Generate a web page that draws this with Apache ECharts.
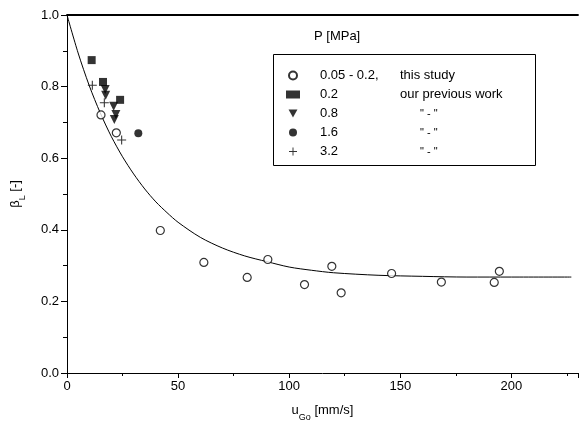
<!DOCTYPE html>
<html>
<head>
<meta charset="utf-8">
<script src="https://cdn.jsdelivr.net/npm/echarts@6/dist/echarts.min.js"></script>
<style>html,body{margin:0;padding:0;background:#fff}#c{width:580px;height:439px}</style>
</head>
<body>
<div id="c"></div>
<script>
// Data
var xTicks = [0, 50, 100, 150, 200];
var yTicks = [0.0, 0.2, 0.4, 0.6, 0.8, 1.0];

var legendNames = ['0.05 - 0.2,', '0.2', '0.8', '1.6', '3.2'];
var legendDesc = ['this study', 'our previous work', '" - "', '" - "', '" - "'];

// P = 0.05 - 0.2 MPa, this study (open circles)
var thisStudy = [
  [15.3, 0.721], [22.2, 0.671], [42.0, 0.398], [61.6, 0.309], [81.1, 0.267],
  [90.4, 0.317], [106.9, 0.247], [119.2, 0.298], [123.4, 0.224], [146.1, 0.278],
  [168.5, 0.254], [192.3, 0.253], [194.6, 0.284]
];
// P = 0.2 MPa, previous work (squares)
var prev02 = [[11.1, 0.874], [16.2, 0.813], [23.9, 0.763]];
// P = 0.8 MPa (down triangles)
var prev08 = [[17.2, 0.792], [17.4, 0.776], [21.0, 0.745], [22.0, 0.722], [21.3, 0.708]];
// P = 1.6 MPa (filled circles)
var prev16 = [[32.1, 0.670]];
// P = 3.2 MPa (crosses)
var prev32 = [[11.4, 0.804], [16.8, 0.755], [24.6, 0.651]];

// fitted curve, points
var curveX = [0, 5, 10, 15, 20, 25, 30, 35, 40, 45, 50, 60, 70, 80, 90, 100, 110, 120, 140, 160, 180, 200, 227];
var curveY = [1.0, 0.894, 0.803, 0.726, 0.660, 0.604, 0.556, 0.514, 0.478, 0.448, 0.421, 0.379, 0.349, 0.327, 0.311, 0.296, 0.287, 0.280, 0.273, 0.270, 0.268, 0.268, 0.268];

var curve = curveX.map(function (x, i) { return [x, curveY[i]]; });

var FONT = 'Liberation Sans, Arial, sans-serif';
var chart = echarts.init(document.getElementById('c'), null, {renderer: 'canvas'});

var triPath = 'path://M0,0L10,0L5,9Z';
var plusPath = 'path://M4.4,0H5.6V4.4H10V5.6H5.6V10H4.4V5.6H0V4.4H4.4Z';

var descMap = {};
legendNames.forEach(function (n, i) { descMap[n] = legendDesc[i]; });

var option = {
  animation: false,
  backgroundColor: '#fff',
  grid: {left: 67, right: 2, top: 15, bottom: 66, containLabel: false, outerBoundsMode: 'none'},
  title: {
    text: 'P [MPa]', left: 309, top: 25,
    textStyle: {fontFamily: FONT, fontSize: 13, fontWeight: 'normal', color: '#000'}
  },
  legend: {
    orient: 'vertical', left: 281, top: 64,
    itemWidth: 14, itemHeight: 8, itemGap: 6,
    data: legendNames,
    formatter: function (name) {
      var d = descMap[name];
      var st = d.indexOf('"') === 0 ? 'q' : 'd';
      return '{v|' + name + '}{' + st + '|' + d + '}';
    },
    textStyle: {
      fontFamily: FONT, fontSize: 13, color: '#000',
      rich: {
        v: {fontFamily: FONT, fontSize: 13, color: '#000', width: 80, padding: [0, 0, 0, 15], lineHeight: 15},
        d: {fontFamily: FONT, fontSize: 13, color: '#000', lineHeight: 15},
        q: {fontFamily: FONT, fontSize: 11, color: '#000', lineHeight: 15, padding: [0, 0, 0, 20]}
      }
    }
  },
  graphic: [{
    type: 'rect', left: 271, top: 52, z: 10, silent: true,
    shape: {width: 262, height: 111},
    style: {fill: 'none', stroke: '#000', lineWidth: 1}
  }],
  xAxis: [{
    type: 'value', min: 0, max: 230, interval: 50,
    name: '{a|u}{s|Go}{a| [mm/s]}', nameLocation: 'middle', nameGap: 31,
    nameTextStyle: {
      fontFamily: FONT, color: '#000',
      rich: {
        a: {fontFamily: FONT, fontSize: 13, color: '#000', lineHeight: 18, verticalAlign: 'top'},
        s: {fontFamily: FONT, fontSize: 9, color: '#000', lineHeight: 18, verticalAlign: 'bottom', padding: [10, 0, 0, 0]}
      }
    },
    axisLine: {show: true, onZero: false, lineStyle: {color: '#000', width: 1}},
    axisTick: {show: true, inside: false, length: 5, lineStyle: {color: '#000'}},
    minorTick: {show: true, splitNumber: 2, length: 3, lineStyle: {color: '#000'}},
    axisLabel: {
      fontFamily: FONT, fontSize: 13, color: '#000', margin: 7,
      formatter: function (v) { return xTicks.indexOf(v) >= 0 ? String(v) : ''; }
    },
    splitLine: {show: false}
  }, {
    type: 'value', min: 0, max: 230, position: 'top',
    axisLine: {show: true, onZero: false, lineStyle: {color: '#000', width: 1.8}},
    axisTick: {show: false}, axisLabel: {show: false}, splitLine: {show: false}
  }],
  yAxis: [{
    type: 'value', min: 0, max: 1, interval: 0.2,
    name: '{a|β}{s|L}{a| [-]}', nameLocation: 'middle', nameGap: 40, nameRotate: 90,
    nameTextStyle: {
      fontFamily: FONT, color: '#000',
      rich: {
        a: {fontFamily: FONT, fontSize: 13, color: '#000', lineHeight: 18, verticalAlign: 'top'},
        s: {fontFamily: FONT, fontSize: 9, color: '#000', lineHeight: 18, verticalAlign: 'bottom', padding: [9, 0, 0, 0]}
      }
    },
    axisLine: {show: true, onZero: false, lineStyle: {color: '#000', width: 1}},
    axisTick: {show: true, inside: false, length: 6, lineStyle: {color: '#000'}},
    minorTick: {show: true, splitNumber: 2, length: 4, lineStyle: {color: '#000'}},
    axisLabel: {
      fontFamily: FONT, fontSize: 13, color: '#000', margin: 8,
      formatter: function (v) { return v.toFixed(1); }
    },
    splitLine: {show: false}
  }],
  series: [
    {
      name: 'fit', type: 'line', data: curve, smooth: 0.3, showSymbol: false, silent: true,
      lineStyle: {color: '#000', width: 1}, z: 1
    },
    {
      name: legendNames[0], type: 'scatter', data: thisStudy, symbol: 'circle', symbolSize: 8,
      itemStyle: {color: '#fff', borderColor: '#000', borderWidth: 1.2}, z: 3
    },
    {
      name: legendNames[1], type: 'scatter', data: prev02, symbol: 'rect', symbolSize: 8,
      itemStyle: {color: '#000'}, z: 3
    },
    {
      name: legendNames[2], type: 'scatter', data: prev08, symbol: triPath, symbolSize: [9, 9],
      itemStyle: {color: '#000'}, z: 3
    },
    {
      name: legendNames[3], type: 'scatter', data: prev16, symbol: 'circle', symbolSize: 8,
      itemStyle: {color: '#000'}, z: 3
    },
    {
      name: legendNames[4], type: 'scatter', data: prev32, symbol: plusPath, symbolSize: 9,
      itemStyle: {color: '#000'}, z: 3
    }
  ]
};
chart.setOption(option);
</script>
</body>
</html>
